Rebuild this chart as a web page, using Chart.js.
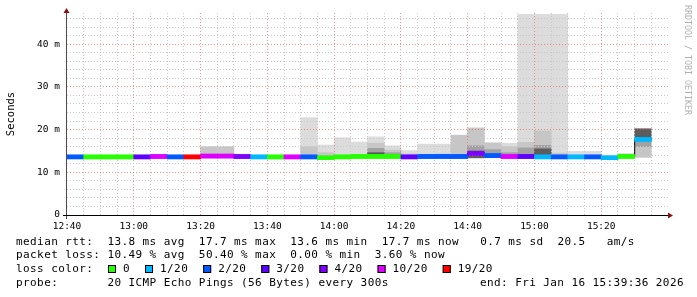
<!DOCTYPE html>
<html>
<head>
<meta charset="utf-8">
<script src="https://cdn.jsdelivr.net/npm/chart.js@4.4.1/dist/chart.umd.min.js"></script>
<style>
  html, body { margin: 0; padding: 0; background: #fff; }
  canvas { display: block; }
</style>
</head>
<body>
<canvas id="smoke" width="697" height="297"></canvas>
<script>
// x axis: minutes since 12:40, one slot every 5 minutes
const stepMinutes = 5;
const xTickLabels = ['12:40', '13:00', '13:20', '13:40', '14:00', '14:20', '14:40', '15:00', '15:20'];
const yTickLabels = ['0', '10 m', '20 m', '30 m', '40 m'];

// loss classes and their colours
const lossLevels = ['0', '1/20', '2/20', '3/20', '4/20', '10/20', '19/20'];
const lossHex = ['#26ff00', '#00b8ff', '#0059ff', '#5e00ff', '#7e00ff', '#dd00ff', '#ff0000'];

// median rtt (ms) per 5 min slot, 12:40 .. 15:35
const medianRtt = [13.6, 13.6, 13.6, 13.6, 13.6, 13.7, 13.6, 13.6, 13.8, 13.8, 13.7, 13.6,
                   13.6, 13.6, 13.6, 13.4, 13.6, 13.7, 13.7, 13.7, 13.6, 13.7, 13.7, 13.7,
                   14.4, 13.9, 13.7, 13.7, 13.6, 13.6, 13.6, 13.6, 13.4, 13.7, 17.7, null];
const slotLoss = ['2/20', '0', '0', '0', '3/20', '10/20', '2/20', '19/20', '10/20', '10/20', '4/20', '1/20',
                  '0', '10/20', '2/20', '0', '0', '0', '0', '0', '3/20', '2/20', '2/20', '2/20',
                  '4/20', '2/20', '10/20', '3/20', '1/20', '2/20', '1/20', '2/20', '1/20', '0', '1/20', null];

// smoke bands [low, high] in ms, lightest to darkest
const _ = null;
const smokePale = [_, _, _, _, _, [13.5, 14.2], _, _, _, _, _, _,
                   _, _, [13.5, 22.8], [13.4, 16.4], [13.5, 18.1], [13.5, 17.1], [13.5, 18.3], [13.5, 16.2], [13.5, 15.1], [13.5, 16.6], [13.5, 16.6], _,
                   _, _, [13.5, 16.8], [13.5, 47.0], [13.5, 47.0], [13.5, 47.0], [13.5, 14.9], [13.5, 14.9], _, [13.5, 14.4], _, _];
const smokeMid = [_, _, _, _, _, _, _, _, [13.6, 16.0], [13.6, 16.0], _, _,
                  _, _, [13.5, 16.0], [13.4, 14.6], [13.5, 14.0], [13.5, 14.1], [13.5, 16.8], [13.5, 15.2], [13.5, 14.3], _, [13.5, 14.3], [13.5, 18.7],
                  [13.4, 20.4], [13.5, 16.9], [13.5, 16.0], [13.5, 17.0], [13.5, 19.7], [13.5, 14.5], _, _, _, _, [13.5, 16.2], _];
const smokeDark = [_, _, _, _, _, _, _, _, _, _, _, _,
                   _, _, _, _, _, _, [13.5, 15.6], [13.5, 14.6], _, _, _, _,
                   [13.4, 16.2], [13.5, 15.3], [13.5, 14.6], [13.5, 15.7], [13.5, 16.3], _, _, _, _, _, [16.0, 17.6], _];
const smokeDeep = [_, _, _, _, _, _, _, _, _, _, _, _,
                   _, _, _, _, _, _, [13.5, 14.6], _, _, _, _, _,
                   [13.4, 15.0], _, _, _, [13.5, 15.5], _, _, _, _, _, [17.6, 20.2], _];

const legendLines = [
  'median rtt:  13.8 ms avg  17.7 ms max  13.6 ms min  17.7 ms now   0.7 ms sd  20.5   am/s',
  'packet loss: 10.49 % avg  50.40 % max  0.00 % min  3.60 % now'
];
const probeText = 'probe:       20 ICMP Echo Pings (56 Bytes) every 300s';
const endText = 'end: Fri Jan 16 15:39:36 2026';

function band(pairs) {
  return pairs.map((p, i) => p ? { x: i * stepMinutes + stepMinutes / 2, y: p } : null).filter(Boolean);
}
function bandSet(pairs, color, order) {
  return { type: 'bar', data: band(pairs), backgroundColor: color, grouped: false, order: order,
           barPercentage: 1, categoryPercentage: 1, borderWidth: 0 };
}

const medianBars = medianRtt.map((m, i) => m == null ? null :
  { x: i * stepMinutes + stepMinutes / 2, y: [m - 0.45, m + 0.45], loss: slotLoss[i] }).filter(Boolean);
const medianSteps = [];
medianRtt.forEach((m, i) => { if (m != null) medianSteps.push({ x: i * stepMinutes, y: m }); });
medianSteps.push({ x: medianSteps.length * stepMinutes, y: medianSteps[medianSteps.length - 1].y });

const MONO = '"DejaVu Sans Mono", monospace';

const decor = {
  id: 'decor',
  beforeDraw(chart) {
    const ctx = chart.ctx;
    ctx.save();
    ctx.fillStyle = '#fff';
    ctx.fillRect(0, 0, chart.width, chart.height);
    ctx.restore();
  },
  afterDraw(chart) {
    const { ctx, chartArea: a } = chart;
    // grid sits over the smoke, the median line sits over the grid
    ctx.save();
    ctx.beginPath();
    ctx.rect(a.left, a.top, a.right - a.left, a.bottom - a.top);
    ctx.clip();
    chart.getDatasetMeta(1).controller.draw();
    chart.getDatasetMeta(0).controller.draw();
    ctx.restore();

    ctx.save();
    // axes
    ctx.lineWidth = 1;
    ctx.strokeStyle = '#5a4848';
    ctx.beginPath(); ctx.moveTo(a.left - 0.5, a.top - 2); ctx.lineTo(a.left - 0.5, a.bottom + 4); ctx.stroke();
    ctx.strokeStyle = '#000';
    ctx.beginPath(); ctx.moveTo(a.left - 4, a.bottom + 0.5); ctx.lineTo(a.right + 1, a.bottom + 0.5); ctx.stroke();
    // arrows
    ctx.fillStyle = '#8b1010';
    ctx.beginPath(); ctx.moveTo(a.left - 3.5, a.top); ctx.lineTo(a.left + 2.5, a.top); ctx.lineTo(a.left - 0.5, a.top - 5); ctx.closePath(); ctx.fill();
    ctx.beginPath(); ctx.moveTo(a.right, a.bottom - 2.5); ctx.lineTo(a.right, a.bottom + 3.5); ctx.lineTo(a.right + 5, a.bottom + 0.5); ctx.closePath(); ctx.fill();
    // watermark
    ctx.save();
    ctx.translate(687, 5);
    ctx.rotate(Math.PI / 2);
    ctx.font = '8.3px ' + MONO;
    ctx.fillStyle = '#b0b0b0';
    ctx.textBaseline = 'middle';
    ctx.fillText('RRDTOOL / TOBI OETIKER', 0, 0);
    ctx.restore();
    // legend
    ctx.font = '11px ' + MONO;
    ctx.letterSpacing = '0.41px';
    ctx.fillStyle = '#000';
    ctx.textBaseline = 'middle';
    ctx.fillText(legendLines[0], 16, 242);
    ctx.fillText(legendLines[1], 16, 255.5);
    ctx.fillText('loss color:', 16, 269);
    let x = 108;
    lossLevels.forEach((lbl, k) => {
      ctx.fillStyle = lossHex[k];
      ctx.fillRect(x, 265, 8, 8);
      ctx.strokeStyle = '#000';
      ctx.strokeRect(x + 0.5, 265.5, 7, 7);
      ctx.fillStyle = '#000';
      ctx.fillText(lbl, x + 15, 269);
      x += 15 + ctx.measureText(lbl).width + 15;
    });
    ctx.fillText(probeText, 16, 283);
    ctx.fillText(endText, 480, 283);
    ctx.restore();
  }
};

new Chart(document.getElementById('smoke'), {
  type: 'bar',
  data: {
    datasets: [
      { type: 'bar', data: medianBars, grouped: false, order: 0, barPercentage: 1, categoryPercentage: 1,
        borderWidth: 0, backgroundColor: c => c.raw ? lossHex[lossLevels.indexOf(c.raw.loss)] : '#000' },
      { type: 'line', data: medianSteps, stepped: true, borderColor: '#202020', borderWidth: 1,
        pointRadius: 0, fill: false, order: 1 },
      bandSet(smokeDeep, '#5c5c5c', 2),
      bandSet(smokeDark, '#a2a2a2', 3),
      bandSet(smokeMid, '#c6c6c6', 4),
      bandSet(smokePale, '#dcdcdc', 5)
    ]
  },
  options: {
    responsive: false,
    animation: false,
    devicePixelRatio: 1,
    events: [],
    layout: { padding: { top: 13, right: 29, left: 0, bottom: 0 } },
    plugins: { legend: { display: false }, tooltip: { enabled: false } },
    scales: {
      x: {
        type: 'linear', min: 0, max: 180, offset: false,
        afterFit: s => { s.height = 82; },
        border: { display: false, dash: [1, 2] },
        grid: {
          offset: false, drawTicks: false, z: 1,
          color: c => {
            const v = c.tick.value;
            if (v === 0 || v === 180) return 'rgba(0,0,0,0)';
            return v % 20 === 0 ? 'rgba(235,90,90,0.65)' : '#c8c8c8';
          }
        },
        ticks: {
          stepSize: 5, maxTicksLimit: 100, autoSkip: false, maxRotation: 0, padding: 6,
          color: '#000', font: { family: MONO, size: 9.5 },
          callback: v => v % 20 === 0 ? (xTickLabels[v / 20] || '') : ''
        }
      },
      y: {
        min: 0, max: 47.3,
        afterFit: s => { s.width = 67; },
        border: { display: false, dash: [1, 2] },
        grid: {
          drawTicks: false, z: 1,
          color: c => {
            const v = c.tick.value;
            if (v === 0) return 'rgba(0,0,0,0)';
            return v % 10 === 0 ? 'rgba(235,90,90,0.65)' : '#c8c8c8';
          }
        },
        ticks: {
          stepSize: 2, maxTicksLimit: 100, includeBounds: false, autoSkip: false, padding: 7,
          color: '#000', font: { family: MONO, size: 9.5 },
          callback: v => v % 10 === 0 ? (yTickLabels[v / 10] || '') : ''
        },
        title: {
          display: true, text: 'Seconds', color: '#000',
          font: { family: MONO, size: 10.5 }, padding: { top: 5, bottom: 0 }
        }
      }
    }
  },
  plugins: [decor]
});
</script>
</body>
</html>
